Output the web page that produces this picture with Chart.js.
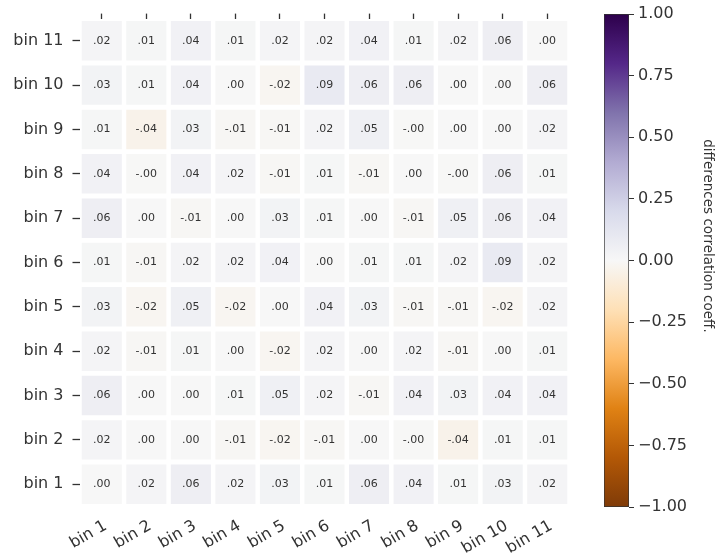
<!DOCTYPE html>
<html>
<head>
<meta charset="utf-8">
<script src="https://cdn.jsdelivr.net/npm/chart.js@4.4.0/dist/chart.umd.min.js"></script>
<style>
  body { margin: 0; background: #fff; width: 724px; height: 556px; overflow: hidden; position: relative; }
  #heat { position: absolute; left: 0; top: 0; }
  #cbar { position: absolute; left: 590px; top: 0; }
</style>
</head>
<body>
<canvas id="heat" width="590" height="556"></canvas>
<canvas id="cbar" width="134" height="556"></canvas>
<script>
// --- data ---
const xBins = ['bin 1', 'bin 2', 'bin 3', 'bin 4', 'bin 5', 'bin 6', 'bin 7', 'bin 8', 'bin 9', 'bin 10', 'bin 11'];
const yBins = ['bin 1', 'bin 2', 'bin 3', 'bin 4', 'bin 5', 'bin 6', 'bin 7', 'bin 8', 'bin 9', 'bin 10', 'bin 11'];

// one row per y bin, columns bin 1..bin 11 (-0.003 shows as "-.00")
const rowBin1  = [0.00, 0.02, 0.06, 0.02, 0.03, 0.01, 0.06, 0.04, 0.01, 0.03, 0.02];
const rowBin2  = [0.02, 0.00, 0.00, -0.01, -0.02, -0.01, 0.00, -0.003, -0.04, 0.01, 0.01];
const rowBin3  = [0.06, 0.00, 0.00, 0.01, 0.05, 0.02, -0.01, 0.04, 0.03, 0.04, 0.04];
const rowBin4  = [0.02, -0.01, 0.01, 0.00, -0.02, 0.02, 0.00, 0.02, -0.01, 0.00, 0.01];
const rowBin5  = [0.03, -0.02, 0.05, -0.02, 0.00, 0.04, 0.03, -0.01, -0.01, -0.02, 0.02];
const rowBin6  = [0.01, -0.01, 0.02, 0.02, 0.04, 0.00, 0.01, 0.01, 0.02, 0.09, 0.02];
const rowBin7  = [0.06, 0.00, -0.01, 0.00, 0.03, 0.01, 0.00, -0.01, 0.05, 0.06, 0.04];
const rowBin8  = [0.04, -0.003, 0.04, 0.02, -0.01, 0.01, -0.01, 0.00, -0.003, 0.06, 0.01];
const rowBin9  = [0.01, -0.04, 0.03, -0.01, -0.01, 0.02, 0.05, -0.003, 0.00, 0.00, 0.02];
const rowBin10 = [0.03, 0.01, 0.04, 0.00, -0.02, 0.09, 0.06, 0.06, 0.00, 0.00, 0.06];
const rowBin11 = [0.02, 0.01, 0.04, 0.01, 0.02, 0.02, 0.04, 0.01, 0.02, 0.06, 0.00];

const rows = [rowBin1, rowBin2, rowBin3, rowBin4, rowBin5, rowBin6, rowBin7, rowBin8, rowBin9, rowBin10, rowBin11];

const cbarTicks = [-1, -0.75, -0.5, -0.25, 0, 0.25, 0.5, 0.75, 1];
const cbarTitle = 'differences correlation coeff.';

// PuOr colormap stops (matplotlib), low -> high
const puOrStops = [
  [127, 59, 8], [179, 88, 6], [224, 130, 20], [253, 184, 99], [254, 224, 182],
  [247, 247, 247], [216, 218, 235], [178, 171, 210], [128, 115, 172], [84, 39, 136], [45, 0, 75]
];

function puOr(v) {
  const t = Math.min(1, Math.max(0, (v + 1) / 2)) * 10;
  const i = Math.min(9, Math.floor(t));
  const f = t - i;
  const a = puOrStops[i], b = puOrStops[i + 1];
  const c = a.map((ch, k) => Math.round(ch + (b[k] - ch) * f));
  return `rgb(${c[0]},${c[1]},${c[2]})`;
}

const fmt = v => v.toFixed(2).replace('0.', '.');
const FONT = "'DejaVu Sans', sans-serif";
const TEXT = '#333';

// --- cell labels ---
const cellLabels = {
  id: 'cellLabels',
  afterDatasetsDraw(chart) {
    const { ctx, scales: { x, y } } = chart;
    ctx.save();
    ctx.font = `11px ${FONT}`;
    ctx.fillStyle = '#333';
    ctx.textAlign = 'center';
    ctx.textBaseline = 'middle';
    rows.forEach((vals, i) => {
      vals.forEach((v, j) => {
        ctx.fillText(fmt(v), x.getPixelForValue(j), y.getPixelForValue(i + 1));
      });
    });
    ctx.restore();
  }
};

new Chart(document.getElementById('heat'), {
  type: 'bar',
  data: {
    labels: xBins,
    datasets: rows.map((vals, i) => ({
      data: vals.map(() => [i + 1 - 0.445, i + 1 + 0.445]),
      backgroundColor: vals.map(puOr),
      borderWidth: 0,
      barPercentage: 0.9,
      categoryPercentage: 1,
      grouped: false
    }))
  },
  options: {
    responsive: false,
    animation: false,
    layout: { padding: { right: 20.5 } },
    plugins: { legend: { display: false }, tooltip: { enabled: false } },
    scales: {
      x: {
        type: 'category',
        position: 'bottom',
        grid: { display: false, drawTicks: false },
        border: { display: false },
        ticks: {
          autoSkip: false, minRotation: 30, maxRotation: 30, padding: 10, labelOffset: 4,
          color: TEXT, font: { family: FONT, size: 16 }
        },
        afterFit: s => { s.height = 49.6; }
      },
      x2: {
        type: 'category',
        position: 'top',
        labels: xBins,
        grid: { offset: false, drawOnChartArea: false, drawTicks: true, tickLength: 5, tickWidth: 1.3, color: '#333' },
        border: { display: false },
        ticks: { display: false, autoSkip: false },
        afterFit: s => { s.height = 14.6; }
      },
      y: {
        type: 'linear',
        min: 0.5,
        max: 11.5,
        afterBuildTicks: s => { s.ticks = yBins.map((_, i) => ({ value: i + 1 })); },
        grid: { drawOnChartArea: false, drawTicks: true, tickLength: 7, tickWidth: 1.3, color: '#333' },
        border: { display: false },
        ticks: {
          padding: 9,
          color: TEXT,
          font: { family: FONT, size: 16 },
          callback: v => yBins[v - 1]
        },
        afterFit: s => { s.width = 79.5; }
      }
    }
  },
  plugins: [cellLabels]
});

// --- colorbar ---
const cbarLabel = {
  id: 'cbarLabel',
  afterDraw(chart) {
    const { ctx } = chart;
    ctx.save();
    ctx.translate(117, 236);
    ctx.rotate(Math.PI / 2);
    ctx.font = `13.5px ${FONT}`;
    ctx.fillStyle = TEXT;
    ctx.textAlign = 'center';
    ctx.textBaseline = 'middle';
    ctx.fillText(cbarTitle, 0, 0);
    ctx.restore();
  }
};

new Chart(document.getElementById('cbar'), {
  type: 'bar',
  data: {
    labels: [''],
    datasets: [{
      data: [[-1, 1]],
      backgroundColor: c => {
        const a = c.chart.chartArea;
        if (!a) return '#f7f7f7';
        const g = c.chart.ctx.createLinearGradient(0, a.bottom, 0, a.top);
        puOrStops.forEach((s, k) => g.addColorStop(k / 10, `rgb(${s[0]},${s[1]},${s[2]})`));
        return g;
      },
      borderColor: '#333',
      borderWidth: 1,
      borderSkipped: false,
      barPercentage: 1,
      categoryPercentage: 1
    }]
  },
  options: {
    responsive: false,
    animation: false,
    layout: { padding: { left: 14, top: 14, bottom: 49 } },
    plugins: { legend: { display: false }, tooltip: { enabled: false } },
    scales: {
      x: { display: false },
      y: {
        position: 'right',
        min: -1,
        max: 1,
        afterBuildTicks: s => { s.ticks = cbarTicks.map(v => ({ value: v })); },
        grid: { drawOnChartArea: false, drawTicks: true, tickLength: 5, color: '#333' },
        border: { display: false },
        ticks: {
          padding: 4,
          color: TEXT,
          font: { family: FONT, size: 16 },
          callback: v => (v < 0 ? '\u2212' : '') + Math.abs(v).toFixed(2)
        },
        afterFit: s => { s.width = 95; }
      }
    }
  },
  plugins: [cbarLabel]
});
</script>
</body>
</html>
